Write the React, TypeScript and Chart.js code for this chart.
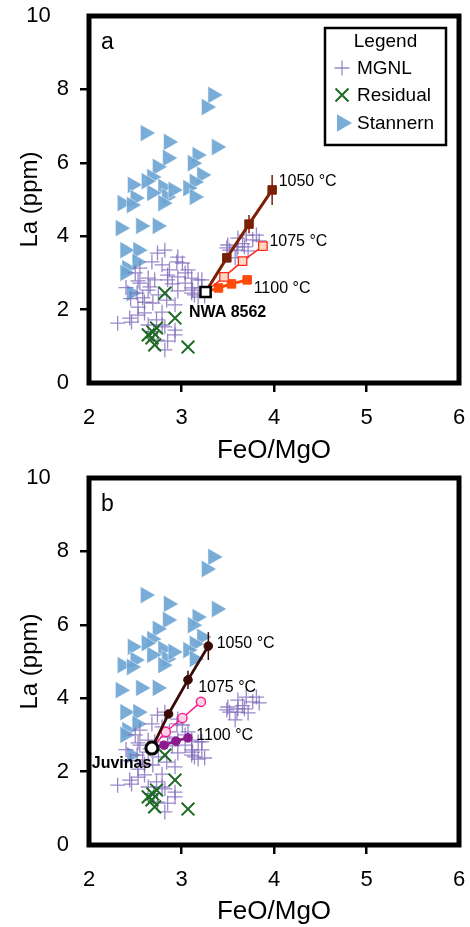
import React, { useEffect, useRef } from 'react';
import { Chart, registerables } from 'chart.js';

Chart.register(...registerables);

const FONT = '"Liberation Sans", Arial, Helvetica, sans-serif';

// axes
const xTickValues = [2, 3, 4, 5, 6];
const yTickValues = [0, 2, 4, 6, 8, 10];
const yTickLabels = ['0', '2', '4', '6', '8', '10   '];
const xTitle = 'FeO/MgO';
const yTitle = 'La (ppm)';

// Stannern-trend eucrites
const stannernFeOMgO = [3.34, 3.27, 2.61, 2.86, 3.38, 2.85, 3.17, 3.12, 2.74, 3.22, 2.68, 2.47, 2.8, 2.68, 3.14, 3.07, 3.14, 2.5, 2.36, 2.84, 2.91, 2.46, 2.8, 2.62, 2.34, 2.56, 2.74, 2.39, 2.53, 2.41, 2.52, 2.39, 2.46];
const stannernLa = [7.85, 7.52, 6.81, 6.57, 6.43, 6.13, 6.21, 5.99, 5.89, 5.67, 5.61, 5.4, 5.34, 5.18, 5.48, 5.31, 5.07, 5.04, 4.9, 5.07, 5.26, 4.85, 4.9, 5.5, 4.22, 4.28, 4.28, 3.62, 3.62, 3.13, 3.3, 3.0, 2.45];

// Main group - Nuevo Laredo eucrites
const mgnlFeOMgO = [2.74, 2.82, 2.96, 2.95, 2.87, 2.79, 2.68, 2.55, 3.04, 3.11, 3.18, 2.64, 2.85, 2.5, 2.53,
  3.5, 3.61, 3.52, 3.61, 3.7, 3.77, 3.68, 3.6, 3.49, 3.81, 3.84, 3.58, 3.72, 3.66,
  3.01, 3.07, 3.04, 3.12, 3.18, 3.14, 3.25, 3.22, 3.11, 2.96, 3.22,
  2.31, 2.46, 2.53, 2.58, 2.64, 2.71, 2.85, 2.96, 3.11, 2.69, 2.73, 2.82, 2.93, 2.79, 2.6, 2.84, 2.93, 2.74, 2.82, 2.66, 2.55, 2.52, 2.44, 2.53, 2.64, 2.79, 2.85, 2.93, 2.7, 2.6, 2.75, 2.9, 2.45, 2.4];
const mgnlLa = [3.54, 3.62, 3.43, 3.3, 3.08, 3.22, 3.3, 3.13, 3.0, 2.86, 2.81, 2.86, 2.81, 3.0, 2.78,
  3.76, 3.71, 3.62, 3.95, 4.03, 3.9, 3.71, 3.62, 3.68, 4.03, 3.87, 3.41, 3.6, 3.8,
  3.27, 3.08, 2.72, 2.53, 2.34, 2.4, 2.37, 2.59, 2.59, 2.51, 2.81,
  1.63, 1.66, 2.07, 2.32, 2.53, 2.81, 2.94, 2.89, 2.45, 2.18, 1.72, 1.53, 1.44, 1.93, 1.91, 2.26, 2.13, 1.17, 0.9, 2.62, 2.72, 2.45, 1.77, 1.85, 1.58, 1.58, 1.14, 1.31, 1.4, 2.2, 2.4, 2.7, 2.3, 2.6];

// Residual eucrites
const residualFeOMgO = [2.82, 2.93, 2.64, 2.69, 2.73, 2.68, 2.71, 3.07];
const residualLa = [2.45, 1.77, 1.31, 1.39, 1.5, 1.23, 1.04, 0.98];

// Panel a: NWA 8562 partial melts
const nwaFeOMgO = [3.26];
const nwaLa = [2.48];
const a1050FeOMgO = [3.26, 3.49, 3.73, 3.98];
const a1050La = [2.48, 3.41, 4.33, 5.26];
const a1050Err = [0, 0, 0.25, 0.41];
const a1075FeOMgO = [3.26, 3.46, 3.66, 3.88];
const a1075La = [2.48, 2.89, 3.32, 3.73];
const a1100FeOMgO = [3.26, 3.4, 3.54, 3.71];
const a1100La = [2.48, 2.59, 2.7, 2.81];

// Panel b: Juvinas partial melts
const juvFeOMgO = [2.68];
const juvLa = [2.64];
const b1050FeOMgO = [2.68, 2.86, 3.07, 3.29];
const b1050La = [2.64, 3.57, 4.5, 5.42];
const b1050Err = [0, 0, 0.25, 0.38];
const b1075FeOMgO = [2.68, 2.83, 3.01, 3.21];
const b1075La = [2.64, 3.08, 3.46, 3.9];
const b1100FeOMgO = [2.68, 2.81, 2.94, 3.07];
const b1100La = [2.64, 2.72, 2.83, 2.92];

const legendTitle = 'Legend';
const legendNames = ['MGNL', 'Residual', 'Stannern'];

const C_STAN = 'rgba(110,165,210,0.92)';
const C_MGNL = 'rgba(128,108,186,0.8)';
const C_RES = '#1d6a22';

const pts = (xs: number[], ys: number[]) => xs.map((x, i) => ({ x, y: ys[i] }));

function errDatasets(xs: number[], ys: number[], es: number[], color: string) {
  const out: any[] = [];
  es.forEach((e, i) => {
    if (e > 0) {
      out.push({
        data: [{ x: xs[i], y: ys[i] - e }, { x: xs[i], y: ys[i] + e }],
        showLine: true,
        borderColor: color,
        borderWidth: 1.5,
        pointRadius: 0,
      });
    }
  });
  return out;
}

function modelDataset(xs: number[], ys: number[], o: any) {
  return {
    data: pts(xs, ys),
    showLine: true,
    borderColor: o.line,
    borderWidth: o.lw,
    pointStyle: o.style,
    pointRadius: xs.map((_, i) => (i === 0 ? 0 : o.r)),
    pointBackgroundColor: o.fill,
    pointBorderColor: o.stroke,
    pointBorderWidth: o.bw,
  };
}

function scatterDatasets() {
  return [
    {
      data: pts(residualFeOMgO, residualLa),
      pointStyle: 'crossRot',
      pointRadius: 9,
      pointBorderColor: C_RES,
      pointBorderWidth: 2,
    },
    {
      data: pts(mgnlFeOMgO, mgnlLa),
      pointStyle: 'cross',
      pointRadius: 7.5,
      pointBorderColor: C_MGNL,
      pointBorderWidth: 1.3,
    },
    {
      data: pts(stannernFeOMgO, stannernLa),
      pointStyle: 'triangle',
      rotation: 90,
      pointRadius: 10,
      pointBackgroundColor: C_STAN,
      pointBorderColor: 'rgba(255,255,255,0.6)',
      pointBorderWidth: 0.8,
    },
  ];
}

const framePlugin = {
  id: 'frame',
  afterDraw(chart: any) {
    const { ctx, chartArea: a } = chart;
    ctx.save();
    ctx.lineWidth = 5;
    ctx.strokeStyle = '#000';
    ctx.strokeRect(a.left, a.top, a.right - a.left, a.bottom - a.top);
    ctx.restore();
  },
};

const annotPlugin = {
  id: 'annot',
  afterDraw(chart: any, _args: any, opts: any) {
    const { ctx, chartArea: a, scales } = chart;
    ctx.save();
    ctx.fillStyle = '#000';
    ctx.textBaseline = 'middle';
    ctx.textAlign = 'left';
    ctx.font = `23px ${FONT}`;
    ctx.fillText(opts.panel, a.left + 12, a.top + 27);
    (opts.labels || []).forEach((l: any) => {
      ctx.font = `${l.bold ? 'bold ' : ''}16px ${FONT}`;
      ctx.fillText(l.text, scales.x.getPixelForValue(l.x), scales.y.getPixelForValue(l.y));
    });
    if (opts.legend) {
      const w = 121, h = 117;
      const x0 = a.right - 13 - w, y0 = a.top + 12;
      ctx.fillStyle = '#fff';
      ctx.fillRect(x0, y0, w, h);
      ctx.lineWidth = 2.5;
      ctx.strokeStyle = '#000';
      ctx.strokeRect(x0, y0, w, h);
      ctx.fillStyle = '#000';
      ctx.font = `19px ${FONT}`;
      ctx.textAlign = 'center';
      ctx.fillText(legendTitle, x0 + w / 2, y0 + 14);
      ctx.textAlign = 'left';
      const rows = [y0 + 40, y0 + 67, y0 + 95];
      const sx = x0 + 17;
      ctx.strokeStyle = C_MGNL; ctx.lineWidth = 1.3;
      ctx.beginPath();
      ctx.moveTo(sx - 7.5, rows[0]); ctx.lineTo(sx + 7.5, rows[0]);
      ctx.moveTo(sx, rows[0] - 7.5); ctx.lineTo(sx, rows[0] + 7.5);
      ctx.stroke();
      ctx.strokeStyle = C_RES; ctx.lineWidth = 2;
      ctx.beginPath();
      ctx.moveTo(sx - 6.5, rows[1] - 6.5); ctx.lineTo(sx + 6.5, rows[1] + 6.5);
      ctx.moveTo(sx - 6.5, rows[1] + 6.5); ctx.lineTo(sx + 6.5, rows[1] - 6.5);
      ctx.stroke();
      ctx.fillStyle = C_STAN;
      ctx.beginPath();
      ctx.moveTo(sx + 10, rows[2]);
      ctx.lineTo(sx - 5, rows[2] - 8.7);
      ctx.lineTo(sx - 5, rows[2] + 8.7);
      ctx.closePath();
      ctx.fill();
      ctx.fillStyle = '#000';
      ctx.font = `19px ${FONT}`;
      legendNames.forEach((n, i) => ctx.fillText(n, x0 + 32, rows[i] + 1));
    }
    ctx.restore();
  },
};

function buildConfig(panel: 'a' | 'b', height: number, top: number, bottom: number) {
  const isA = panel === 'a';
  const models = isA
    ? [
        { data: pts(nwaFeOMgO, nwaLa), pointStyle: 'rect', pointRadius: 7.2, pointBackgroundColor: '#fff', pointBorderColor: '#000', pointBorderWidth: 2.5 },
        ...errDatasets(a1050FeOMgO, a1050La, a1050Err, '#7b2005'),
        modelDataset(a1050FeOMgO, a1050La, { line: '#7b2005', lw: 3, style: 'rect', r: 6, fill: '#7b2005', stroke: '#7b2005', bw: 1 }),
        modelDataset(a1075FeOMgO, a1075La, { line: '#ff2a1a', lw: 1.5, style: 'rect', r: 6, fill: '#fdd9c4', stroke: '#ff2a1a', bw: 1.3 }),
        modelDataset(a1100FeOMgO, a1100La, { line: '#ff4a0c', lw: 2.8, style: 'rect', r: 6, fill: '#ff4a0c', stroke: '#ff4a0c', bw: 1 }),
      ]
    : [
        { data: pts(juvFeOMgO, juvLa), pointStyle: 'circle', pointRadius: 6, pointBackgroundColor: '#fff', pointBorderColor: '#000', pointBorderWidth: 3 },
        ...errDatasets(b1050FeOMgO, b1050La, b1050Err, '#3a0a05'),
        modelDataset(b1050FeOMgO, b1050La, { line: '#3a0a05', lw: 2.8, style: 'circle', r: 4.3, fill: '#3a0a05', stroke: '#3a0a05', bw: 1 }),
        modelDataset(b1075FeOMgO, b1075La, { line: '#ff1a8c', lw: 1.5, style: 'circle', r: 4.6, fill: '#ffd3e6', stroke: '#ff1a8c', bw: 1.4 }),
        modelDataset(b1100FeOMgO, b1100La, { line: '#8c1a8c', lw: 2.6, style: 'circle', r: 4.3, fill: '#8c1a8c', stroke: '#8c1a8c', bw: 1 }),
      ];
  const labels = isA
    ? [
        { text: '1050 °C', x: 4.05, y: 5.48 },
        { text: '1075 °C', x: 3.95, y: 3.84 },
        { text: '1100 °C', x: 3.78, y: 2.56 },
        { text: 'NWA 8562', x: 3.08, y: 1.91, bold: true },
      ]
    : [
        { text: '1050 °C', x: 3.38, y: 5.48 },
        { text: '1075 °C', x: 3.18, y: 4.28 },
        { text: '1100 °C', x: 3.16, y: 2.97 },
        { text: 'Juvinas', x: 2.03, y: 2.21, bold: true },
      ];
  const edgeX = (c: any) => (c.tick && (c.tick.value === xTickValues[0] || c.tick.value === xTickValues[xTickValues.length - 1]) ? 'rgba(0,0,0,0)' : '#000');
  const edgeY = (c: any) => (c.tick && (c.tick.value === yTickValues[0] || c.tick.value === yTickValues[yTickValues.length - 1]) ? 'rgba(0,0,0,0)' : '#000');
  return {
    type: 'scatter' as const,
    data: { datasets: [...models, ...scatterDatasets()] },
    options: {
      responsive: false,
      animation: false,
      devicePixelRatio: 1,
      layout: { padding: { top, right: 10, left: 0, bottom: 0 } },
      plugins: {
        legend: { display: false },
        tooltip: { enabled: false },
        annot: { panel, labels, legend: isA },
      },
      scales: {
        x: {
          type: 'linear',
          min: xTickValues[0],
          max: xTickValues[xTickValues.length - 1],
          afterBuildTicks: (s: any) => { s.ticks = xTickValues.map((v) => ({ value: v })); },
          afterFit: (s: any) => { s.height = height - bottom; s.paddingLeft = 0; s.paddingRight = 0; },
          border: { display: false },
          grid: { drawOnChartArea: false, drawTicks: true, tickLength: 9, lineWidth: 2.5, color: edgeX },
          ticks: { color: '#000', font: { family: FONT, size: 22 }, padding: 13 },
          title: { display: true, text: xTitle, color: '#000', font: { family: FONT, size: 26 }, padding: { bottom: 0 } },
        },
        y: {
          type: 'linear',
          min: yTickValues[0],
          max: yTickValues[yTickValues.length - 1],
          afterBuildTicks: (s: any) => { s.ticks = yTickValues.map((v) => ({ value: v })); },
          afterFit: (s: any) => { s.width = 89; s.paddingTop = 0; s.paddingBottom = 0; },
          border: { display: false },
          grid: { drawOnChartArea: false, drawTicks: true, tickLength: 9, lineWidth: 2.5, color: edgeY },
          ticks: {
            color: '#000',
            font: { family: FONT, size: 22 },
            padding: 11,
            callback: (v: any) => yTickLabels[yTickValues.indexOf(Number(v))] ?? String(v),
          },
          title: { display: true, text: yTitle, color: '#000', font: { family: FONT, size: 24 }, padding: { top: 16 } },
        },
      },
    },
    plugins: [framePlugin, annotPlugin],
  };
}

function Panel({ panel, height, top, bottom }: { panel: 'a' | 'b'; height: number; top: number; bottom: number }) {
  const ref = useRef<HTMLCanvasElement | null>(null);
  useEffect(() => {
    if (!ref.current) return;
    const chart = new Chart(ref.current, buildConfig(panel, height, top, bottom) as any);
    return () => chart.destroy();
  }, [panel, height, top, bottom]);
  return <canvas ref={ref} width={470} height={height} style={{ display: 'block', width: 470, height }} />;
}

export default function App() {
  return (
    <div style={{ position: 'absolute', left: 0, top: 0, width: 470, height: 927, background: '#fff' }}>
      <Panel panel="a" height={466} top={16} bottom={383} />
      <Panel panel="b" height={461} top={12} bottom={379} />
    </div>
  );
}
